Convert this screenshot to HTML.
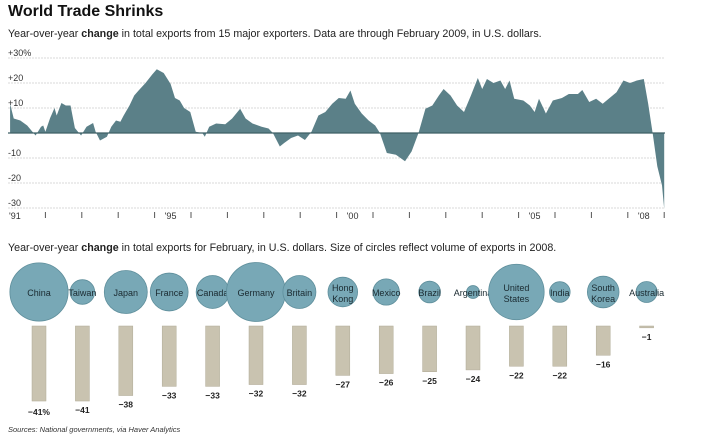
<!DOCTYPE html>
<html><head><meta charset="utf-8"><style>
body{margin:0;background:#fff;width:720px;height:440px;overflow:hidden;font-family:"Liberation Sans",sans-serif}
svg{display:block}
</style></head><body>
<svg id="c" width="720" height="440">
<text x="8" y="16" font-size="16" font-weight="bold" fill="#111">World Trade Shrinks</text>
<text x="8" y="37" font-size="10.7" fill="#222">Year-over-year <tspan font-weight="bold">change</tspan> in total exports from 15 major exporters. Data are through February 2009, in U.S. dollars.</text>
<text x="8" y="251" font-size="10.7" fill="#222">Year-over-year <tspan font-weight="bold">change</tspan> in total exports for February, in U.S. dollars. Size of circles reflect volume of exports in 2008.</text>
<text x="8" y="432" font-size="7.5" font-style="italic" fill="#333">Sources: National governments, via Haver Analytics</text>
<g id="topG"></g><g id="botG"></g>
</svg>
<script>
const years=[1991.03,1991.13,1991.31,1991.5,1991.73,1991.88,1991.94,1992.0,1992.13,1992.25,1992.31,1992.44,1992.56,1992.69,1992.81,1992.98,1993.13,1993.31,1993.38,1993.5,1993.69,1993.81,1993.94,1994.06,1994.15,1994.31,1994.44,1994.56,1994.75,1994.94,1995.06,1995.25,1995.44,1995.56,1995.69,1995.81,1995.98,1996.13,1996.31,1996.38,1996.5,1996.69,1996.94,1997.13,1997.35,1997.5,1997.69,1997.94,1998.13,1998.25,1998.44,1998.56,1998.75,1998.94,1999.13,1999.31,1999.5,1999.69,1999.88,2000.06,2000.25,2000.38,2000.5,2000.69,2000.88,2001.06,2001.19,2001.38,2001.63,2001.88,2002.06,2002.25,2002.44,2002.63,2002.81,2002.94,2003.13,2003.31,2003.5,2003.69,2003.88,2004.0,2004.13,2004.31,2004.5,2004.63,2004.75,2004.88,2005.13,2005.31,2005.44,2005.56,2005.75,2005.94,2006.19,2006.38,2006.63,2006.75,2006.94,2007.13,2007.31,2007.5,2007.69,2007.88,2008.06,2008.25,2008.44,2008.56,2008.69,2008.81,2008.94,2009.0];
const values=[11.7,5.8,5,3,-1,2.5,3,0.5,6,10,7,12,11,11,2,-1,2.5,4,0.5,-3,-1.5,2.5,5,4.5,7,11,15,17,20,23.5,25.5,24,19.6,14,13,10,8.4,0.5,0,-1.5,2.5,3.8,3.5,5.8,9.7,5.8,3.8,2.5,1.8,0,-5.4,-4,-2,-1,-2.8,0.5,7,8.4,11.7,14,13.7,17,11.7,7.8,5,3,0,-8,-8.7,-11.3,-7.4,0,9.7,11,15,17.6,15,11,8.4,15,22,17.6,21.6,20,21,17.6,21,13.7,13,11,8.4,13.7,7.8,13,14,15.6,15.6,17.2,12.4,13.7,11.7,14,16.3,21,20,21,21.6,11.7,-0.8,-13.3,-21,-30.4];
const yTicks=[30,20,10,-10,-20,-30];
const yTickLabels=["+30%","+20","+10","-10","-20","-30"];
const tickYears=[1991,1992,1993,1994,1995,1996,1997,1998,1999,2000,2001,2002,2003,2004,2005,2006,2007,2008,2009];
const yearLabels={1991:"'91",1995:"'95",2000:"'00",2005:"'05",2008:"'08"};
const countries=["China","Taiwan","Japan","France","Canada","Germany","Britain","Hong Kong","Mexico","Brazil","Argentina","United States","India","South Korea","Australia"];
const changes=[-41,-41,-38,-33,-33,-32,-32,-27,-26,-25,-24,-22,-22,-16,-1];
const exportVol=[1430,255,780,605,455,1465,460,370,292,198,70,1300,180,422,187];
const NS="http://www.w3.org/2000/svg";
function el(t,a,p){const e=document.createElementNS(NS,t);for(const k in a)e.setAttribute(k,a[k]);p.appendChild(e);return e;}
const topG=document.getElementById('topG'),botG=document.getElementById('botG');
const X=y=>9+(y-1991)*36.4, Y=v=>133-v*2.5;
yTicks.forEach((t,i)=>{
 const l=el('line',{x1:8,x2:665,y1:Y(t),y2:Y(t),stroke:'#ccc','stroke-dasharray':'2,1','stroke-width':0.8},topG);
 
 
 const tx=el('text',{x:8,y:Y(t)-2,'font-size':9,fill:'#333'},topG);tx.textContent=yTickLabels[i];
 
 
});
const n=Math.min(years.length,values.length);
const pts=[];
pts.push(X(years[0]).toFixed(2)+','+Y(0).toFixed(2));
for(let i=0;i<n;i++){pts.push(X(years[i]).toFixed(2)+','+Y(values[i]).toFixed(2));}
pts.push(X(years[n-1]).toFixed(2)+','+Y(0).toFixed(2));
const ar=el('polygon',{points:pts.join(' '),fill:'#5b8088'},topG);


const z=el('line',{x1:8,x2:665,y1:Y(0),y2:Y(0),stroke:'#3f5f66','stroke-width':1.2},topG);


tickYears.forEach(yr=>{
 if(yr>1991){const t=el('line',{x1:X(yr),x2:X(yr),y1:212,y2:218,stroke:'#555'},topG);
 
 }
 if(yearLabels[yr]){const tx=el('text',{x:yr==1991?9:X(yr)+16,y:219,'font-size':9,fill:'#333','text-anchor':yr==1991?'start':'middle'},topG);tx.textContent=yearLabels[yr];
 
 }
});
const CX=i=>39+i*43.4, BY=v=>326-v*1.83;
const rS=v=>Math.sqrt(v)*0.77;
countries.forEach((c,i)=>{
 const r=rS(exportVol[i]);
 const ci=el('circle',{cx:CX(i),cy:292,r:r,fill:'#78a8b6',stroke:'#5f8f9c','stroke-width':0.8},botG);
 
 
 const parts=c.split(' ');
 const tx=el('text',{x:CX(i),y:parts.length>1?291:296,'font-size':9,fill:'#1a2a30','text-anchor':'middle'},botG);
 parts.forEach((p,j)=>{const ts=el('tspan',{x:CX(i),dy:j?11:0},tx);ts.textContent=p;});
 
 
 const h=Math.max(1.5,BY(changes[i])-326);
 const b=el('rect',{x:CX(i)-7,y:326,width:14,height:h,fill:'#c9c3b0',stroke:'#b0aa96','stroke-width':0.5},botG);
 
 
 const v=el('text',{x:CX(i),y:326+h+(i==0?14:12),'font-size':8.5,'font-weight':'bold',fill:'#222','text-anchor':'middle'},botG);
 v.textContent='\u2212'+Math.abs(changes[i])+(i==0?'%':'');
 
 
});
</script>
</body></html>
